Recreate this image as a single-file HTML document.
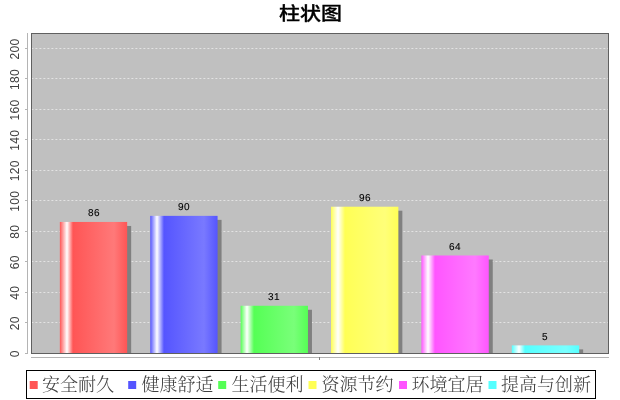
<!DOCTYPE html>
<html lang="zh"><head><meta charset="utf-8"><title>柱状图</title>
<style>html,body{margin:0;padding:0;background:#fff;}body{width:620px;height:400px;overflow:hidden;}svg{display:block;}.tick{font-family:"Liberation Sans","DejaVu Sans",sans-serif;font-size:12px;fill:#404040;letter-spacing:0.33px;}.val{font-family:"Liberation Sans","DejaVu Sans",sans-serif;font-size:10px;fill:#000;letter-spacing:0.44px;text-rendering:geometricPrecision;stroke:#000;stroke-width:0.1px;}.leg{font-family:"Liberation Serif","Noto Serif CJK SC",serif;font-size:18px;font-weight:300;fill:#404040;}.title{font-family:"Liberation Sans","Noto Sans CJK SC",sans-serif;font-size:20px;font-weight:500;fill:#000;stroke:#000;stroke-width:0.35px;}</style></head><body>
<svg width="620" height="400" viewBox="0 0 620 400">
<defs>
<linearGradient id="g0" gradientUnits="userSpaceOnUse" x1="59.85" y1="0" x2="127.17" y2="0"><stop offset="0" stop-color="#ff5555"/><stop offset="0.1062" stop-color="#ffffff"/><stop offset="0.1953" stop-color="#ff5555"/><stop offset="0.8044" stop-color="#ff7979"/><stop offset="1" stop-color="#ff5555"/></linearGradient>
<linearGradient id="g1" gradientUnits="userSpaceOnUse" x1="150.25" y1="0" x2="217.56" y2="0"><stop offset="0" stop-color="#5555ff"/><stop offset="0.1003" stop-color="#ffffff"/><stop offset="0.2043" stop-color="#5555ff"/><stop offset="0.7985" stop-color="#7979ff"/><stop offset="1" stop-color="#5555ff"/></linearGradient>
<linearGradient id="g2" gradientUnits="userSpaceOnUse" x1="240.64" y1="0" x2="307.96" y2="0"><stop offset="0" stop-color="#55ff55"/><stop offset="0.0944" stop-color="#ffffff"/><stop offset="0.1984" stop-color="#55ff55"/><stop offset="0.7926" stop-color="#79ff79"/><stop offset="1" stop-color="#55ff55"/></linearGradient>
<linearGradient id="g3" gradientUnits="userSpaceOnUse" x1="331.04" y1="0" x2="398.36" y2="0"><stop offset="0" stop-color="#ffff55"/><stop offset="0.1034" stop-color="#ffffff"/><stop offset="0.2074" stop-color="#ffff55"/><stop offset="0.8016" stop-color="#ffff79"/><stop offset="1" stop-color="#ffff55"/></linearGradient>
<linearGradient id="g4" gradientUnits="userSpaceOnUse" x1="421.44" y1="0" x2="488.75" y2="0"><stop offset="0" stop-color="#ff55ff"/><stop offset="0.0975" stop-color="#ffffff"/><stop offset="0.2015" stop-color="#ff55ff"/><stop offset="0.7957" stop-color="#ff79ff"/><stop offset="1" stop-color="#ff55ff"/></linearGradient>
<linearGradient id="g5" gradientUnits="userSpaceOnUse" x1="511.83" y1="0" x2="579.15" y2="0"><stop offset="0" stop-color="#55ffff"/><stop offset="0.1065" stop-color="#ffffff"/><stop offset="0.1956" stop-color="#55ffff"/><stop offset="0.8047" stop-color="#79ffff"/><stop offset="1" stop-color="#55ffff"/></linearGradient>
</defs>
<rect x="0" y="0" width="620" height="400" fill="#ffffff"/>
<text class="title" transform="translate(310.6,19.7) scale(1.05,0.905)" x="0" y="0" text-anchor="middle">柱状图</text>
<rect x="31.0" y="33.0" width="577.0" height="320.0" fill="#c0c0c0"/>
<line x1="31.0" y1="322.5" x2="608.0" y2="322.5" stroke="#ffffff" stroke-opacity="0.55" stroke-width="1" stroke-dasharray="2 2" stroke-dashoffset="-0.4"/>
<line x1="31.0" y1="292.5" x2="608.0" y2="292.5" stroke="#ffffff" stroke-opacity="0.55" stroke-width="1" stroke-dasharray="2 2" stroke-dashoffset="-0.4"/>
<line x1="31.0" y1="261.5" x2="608.0" y2="261.5" stroke="#ffffff" stroke-opacity="0.55" stroke-width="1" stroke-dasharray="2 2" stroke-dashoffset="-0.4"/>
<line x1="31.0" y1="231.5" x2="608.0" y2="231.5" stroke="#ffffff" stroke-opacity="0.55" stroke-width="1" stroke-dasharray="2 2" stroke-dashoffset="-0.4"/>
<line x1="31.0" y1="200.5" x2="608.0" y2="200.5" stroke="#ffffff" stroke-opacity="0.55" stroke-width="1" stroke-dasharray="2 2" stroke-dashoffset="-0.4"/>
<line x1="31.0" y1="170.5" x2="608.0" y2="170.5" stroke="#ffffff" stroke-opacity="0.55" stroke-width="1" stroke-dasharray="2 2" stroke-dashoffset="-0.4"/>
<line x1="31.0" y1="139.5" x2="608.0" y2="139.5" stroke="#ffffff" stroke-opacity="0.55" stroke-width="1" stroke-dasharray="2 2" stroke-dashoffset="-0.4"/>
<line x1="31.0" y1="109.5" x2="608.0" y2="109.5" stroke="#ffffff" stroke-opacity="0.55" stroke-width="1" stroke-dasharray="2 2" stroke-dashoffset="-0.4"/>
<line x1="31.0" y1="78.5" x2="608.0" y2="78.5" stroke="#ffffff" stroke-opacity="0.55" stroke-width="1" stroke-dasharray="2 2" stroke-dashoffset="-0.4"/>
<line x1="31.0" y1="48.5" x2="608.0" y2="48.5" stroke="#ffffff" stroke-opacity="0.55" stroke-width="1" stroke-dasharray="2 2" stroke-dashoffset="-0.4"/>
<rect x="63.85" y="225.95" width="67.32" height="127.05" fill="#808080"/>
<rect x="154.25" y="219.86" width="67.32" height="133.14" fill="#808080"/>
<rect x="244.64" y="309.76" width="67.32" height="43.24" fill="#808080"/>
<rect x="335.04" y="210.71" width="67.32" height="142.29" fill="#808080"/>
<rect x="425.44" y="259.48" width="67.32" height="93.52" fill="#808080"/>
<rect x="515.83" y="349.38" width="67.32" height="3.62" fill="#808080"/>
<rect x="59.85" y="221.95" width="67.32" height="131.05" fill="url(#g0)"/>
<text class="val" x="88" y="216">86</text>
<rect x="150.25" y="215.86" width="67.32" height="137.14" fill="url(#g1)"/>
<text class="val" x="178" y="210">90</text>
<rect x="240.64" y="305.76" width="67.32" height="47.24" fill="url(#g2)"/>
<text class="val" x="268" y="300">31</text>
<rect x="331.04" y="206.71" width="67.32" height="146.29" fill="url(#g3)"/>
<text class="val" x="359" y="201">96</text>
<rect x="421.44" y="255.48" width="67.32" height="97.52" fill="url(#g4)"/>
<text class="val" x="449" y="250">64</text>
<rect x="511.83" y="345.38" width="67.32" height="7.62" fill="url(#g5)"/>
<text class="val" x="542" y="340">5</text>
<rect x="31.5" y="33.5" width="577.0" height="320.0" fill="none" stroke="#606060" stroke-width="1"/>
<line x1="27.5" y1="33" x2="27.5" y2="354" stroke="#b4b4b4" stroke-width="1"/>
<line x1="31" y1="357.5" x2="609" y2="357.5" stroke="#b4b4b4" stroke-width="1"/>
<line x1="319.5" y1="357" x2="319.5" y2="360" stroke="#808080" stroke-width="1"/>
<line x1="25" y1="353.5" x2="28" y2="353.5" stroke="#b4b4b4" stroke-width="1"/>
<text class="tick" transform="translate(18.6,353.70) rotate(-90)" text-anchor="middle">0</text>
<line x1="25" y1="322.5" x2="28" y2="322.5" stroke="#b4b4b4" stroke-width="1"/>
<text class="tick" transform="translate(18.6,323.22) rotate(-90)" text-anchor="middle">20</text>
<line x1="25" y1="292.5" x2="28" y2="292.5" stroke="#b4b4b4" stroke-width="1"/>
<text class="tick" transform="translate(18.6,292.75) rotate(-90)" text-anchor="middle">40</text>
<line x1="25" y1="261.5" x2="28" y2="261.5" stroke="#b4b4b4" stroke-width="1"/>
<text class="tick" transform="translate(18.6,262.27) rotate(-90)" text-anchor="middle">60</text>
<line x1="25" y1="231.5" x2="28" y2="231.5" stroke="#b4b4b4" stroke-width="1"/>
<text class="tick" transform="translate(18.6,231.80) rotate(-90)" text-anchor="middle">80</text>
<line x1="25" y1="200.5" x2="28" y2="200.5" stroke="#b4b4b4" stroke-width="1"/>
<text class="tick" transform="translate(18.6,201.32) rotate(-90)" text-anchor="middle">100</text>
<line x1="25" y1="170.5" x2="28" y2="170.5" stroke="#b4b4b4" stroke-width="1"/>
<text class="tick" transform="translate(18.6,170.84) rotate(-90)" text-anchor="middle">120</text>
<line x1="25" y1="139.5" x2="28" y2="139.5" stroke="#b4b4b4" stroke-width="1"/>
<text class="tick" transform="translate(18.6,140.37) rotate(-90)" text-anchor="middle">140</text>
<line x1="25" y1="109.5" x2="28" y2="109.5" stroke="#b4b4b4" stroke-width="1"/>
<text class="tick" transform="translate(18.6,109.89) rotate(-90)" text-anchor="middle">160</text>
<line x1="25" y1="78.5" x2="28" y2="78.5" stroke="#b4b4b4" stroke-width="1"/>
<text class="tick" transform="translate(18.6,79.41) rotate(-90)" text-anchor="middle">180</text>
<line x1="25" y1="48.5" x2="28" y2="48.5" stroke="#b4b4b4" stroke-width="1"/>
<text class="tick" transform="translate(18.6,48.94) rotate(-90)" text-anchor="middle">200</text>
<rect x="26.5" y="370.5" width="569" height="28" fill="#ffffff" stroke="#000000" stroke-width="1"/>
<rect x="29.7" y="381" width="8" height="8" fill="#ff5555"/>
<text class="leg" x="42" y="391.3">安全耐久</text>
<rect x="128.2" y="381" width="8" height="8" fill="#5555ff"/>
<text class="leg" x="141.5" y="391.3">健康舒适</text>
<rect x="218.2" y="381" width="8" height="8" fill="#55ff55"/>
<text class="leg" x="231.5" y="391.3">生活便利</text>
<rect x="308.5" y="381" width="8" height="8" fill="#ffff55"/>
<text class="leg" x="321.5" y="391.3">资源节约</text>
<rect x="399" y="381" width="8" height="8" fill="#ff55ff"/>
<text class="leg" x="411.5" y="391.3">环境宜居</text>
<rect x="488.5" y="381" width="8" height="8" fill="#55ffff"/>
<text class="leg" x="501" y="391.3">提高与创新</text>
</svg></body></html>
